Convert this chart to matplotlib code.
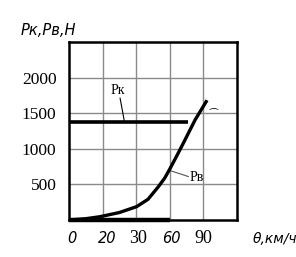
import numpy as np
import matplotlib
matplotlib.use("Agg")
from matplotlib import pyplot as plt

# grid columns 0..5, labels under the first five grid lines
xticks_pos = [0, 1, 2, 3, 4]
xtick_labels = ["0", "20", "30", "60", "90"]
yticks = [500, 1000, 1500, 2000]

# traction force Pk (flat) and resistance Pv (curve)
pk_x = [0, 3.55]
pk_y = [1372, 1372]
pv_x = [0, 0.5, 0.92, 1.5, 2.01, 2.35, 2.66, 2.85, 3.01, 3.2, 3.40, 3.75, 4.08]
pv_y = [0, 18, 46, 105, 187, 290, 468, 590, 726, 895, 1077, 1404, 1661]

fig = plt.figure(figsize=(2.96, 2.57), dpi=100)
ax = fig.add_axes([0.233, 0.144, 0.568, 0.693])

ax.set_xlim(0, 5)
ax.set_ylim(0, 2500)
for x in range(1, 5):
    ax.axvline(x, color="#8a8a8a", lw=1.0, zorder=1)
for y in yticks:
    ax.axhline(y, color="#8a8a8a", lw=1.0, zorder=1)

ax.plot(pk_x, pk_y, color="black", lw=2.6, solid_capstyle="butt", zorder=3)
ax.plot(pv_x, pv_y, color="black", lw=2.4, zorder=3)
ax.plot([0, 3], [0, 0], color="black", lw=3.2, solid_capstyle="butt", zorder=3, clip_on=False)

for s in ax.spines.values():
    s.set_linewidth(1.8)

ax.set_xticks(xticks_pos)
ax.set_xticklabels([])
ax.set_yticks(yticks)
ax.set_yticklabels([str(v) for v in yticks], family="Liberation Serif", fontsize=12.5)
ax.tick_params(length=0, pad=9)

# x labels mix italic sans and upright serif like the original
xfonts = [("DejaVu Sans", "italic", 10.5), ("DejaVu Sans", "italic", 10.5),
          ("Liberation Serif", "normal", 13), ("DejaVu Sans", "italic", 10.5),
          ("Liberation Serif", "normal", 13)]
xoff = [0.1, 0.15, 0.05, 0.05, 0.0]
for p, lab, (fam, sty, fs), o in zip(xticks_pos, xtick_labels, xfonts, xoff):
    ax.text(p + o, -260, lab, family=fam, style=sty, fontsize=fs,
            ha="center", va="center", clip_on=False)

ax.text(5.45, -260, "θ,км/ч", family="DejaVu Sans", style="italic", fontsize=10,
        ha="left", va="center", clip_on=False)
fig.text(0.068, 0.883, "Pк,Pв,H", family="DejaVu Sans", style="italic", fontsize=10.5,
         ha="left", va="center")

ax.text(1.45, 1820, "Pк", family="Liberation Serif", fontsize=10, ha="center", va="center")
ax.plot([1.52, 1.65], [1710, 1380], color="black", lw=0.8)
ax.text(3.8, 590, "Pв", family="Liberation Serif", fontsize=10, ha="center", va="center")
ax.plot([3.03, 3.55], [690, 610], color="#555555", lw=0.8)
ax.text(4.28, 1480, "⁀", family=["DejaVu Sans", "Noto Sans"], fontsize=7,
        ha="center", va="center")

fig.savefig("out.png", dpi=100)
